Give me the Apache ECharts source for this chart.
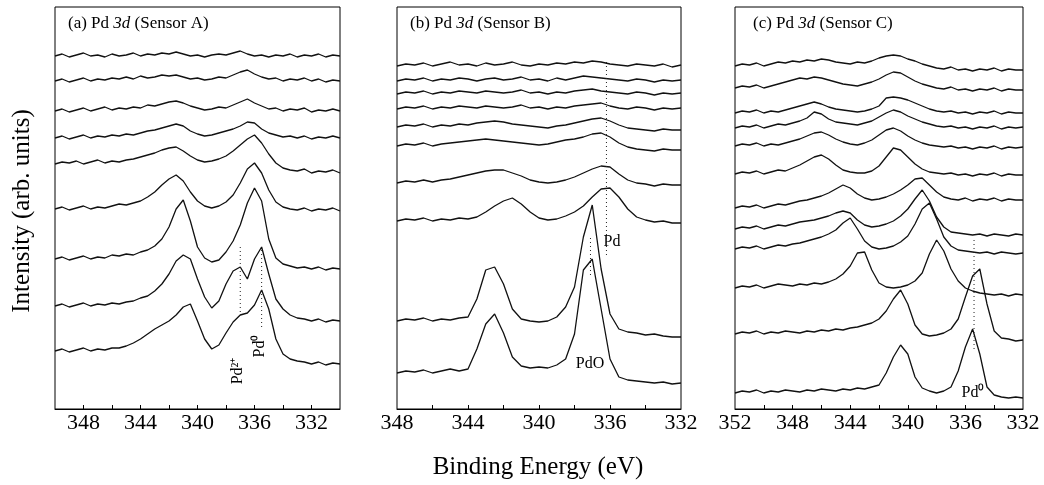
<!DOCTYPE html>
<html>
<head>
<meta charset="utf-8">
<script src="https://cdn.jsdelivr.net/npm/echarts@6/dist/echarts.min.js"></script>
<style>
  html, body { margin: 0; padding: 0; background: #fff; }
  #main { width: 1044px; height: 485px; }
</style>
</head>
<body>
<div id="main"></div>
<script>
// binding energy grids (eV), one per panel
const energyA = [350,349.5,349,348.5,348,347.5,347,346.5,346,345.5,345,344.5,344,343.5,343,342.5,342,341.5,341,340.5,340,339.5,339,338.5,338,337.5,337,336.5,336,335.5,335,334.5,334,333.5,333,332.5,332,331.5,331,330.5,330];
const energyB = [348,347.5,347,346.5,346,345.5,345,344.5,344,343.5,343,342.5,342,341.5,341,340.5,340,339.5,339,338.5,338,337.5,337,336.5,336,335.5,335,334.5,334,333.5,333,332.5,332];
const energyC = [352,351.5,351,350.5,350,349.5,349,348.5,348,347.5,347,346.5,346,345.5,345,344.5,344,343.5,343,342.5,342,341.5,341,340.5,340,339.5,339,338.5,338,337.5,337,336.5,336,335.5,335,334.5,334,333.5,333,332.5,332];

// (a) Sensor A, offset spectra from top to bottom (arb. units)
const a1 = [353,355,352,354,356,353,354,352,355,353,354,356,353,355,354,356,355,357,355,353,354,352,354,355,354,356,358,355,353,354,352,354,353,355,352,354,353,355,352,354,353];
const a2 = [328,330,327,329,331,328,330,329,331,330,332,330,333,331,332,334,333,334,332,330,331,329,330,332,331,334,337,339,335,332,330,331,328,330,329,331,328,330,327,329,328];
const a3 = [298,300,297,299,301,298,300,302,299,301,300,302,301,304,303,305,307,308,306,303,301,299,300,302,301,304,307,310,306,303,300,301,298,300,299,301,297,299,298,300,298];
const a4 = [271,273,270,272,274,271,273,272,274,273,275,274,276,278,279,281,283,285,283,278,275,273,274,276,278,280,283,287,286,280,276,274,272,273,271,273,270,272,271,273,271];
const a5 = [245,247,246,248,245,247,249,246,248,247,249,250,252,254,256,259,261,262,258,253,249,247,248,250,253,258,264,270,274,266,255,246,241,239,238,240,236,238,237,239,236];
const a6 = [200,202,199,201,203,200,202,201,203,205,204,206,208,212,217,224,230,234,228,217,208,203,201,203,207,214,226,240,246,236,219,207,202,200,199,201,198,200,199,201,198];
const a7 = [150,152,149,151,153,150,152,151,154,153,155,154,157,159,163,170,182,200,209,188,162,151,147,149,157,168,184,206,221,208,170,151,145,143,141,142,140,142,139,141,140];
const a8 = [103,105,102,104,106,103,105,104,106,105,107,108,111,113,118,125,135,148,154,150,130,112,101,108,125,138,142,130,150,162,135,110,100,94,91,90,88,90,87,89,88];
const a9 = [58,60,57,59,61,58,60,59,61,61,63,66,70,75,80,84,88,94,102,105,88,70,60,64,76,87,94,96,104,119,100,70,55,50,48,47,45,47,44,46,45];

// (b) Sensor B
const b1 = [343,345,344,346,343,345,347,344,345,343,346,344,345,347,344,343,345,344,346,345,347,346,348,347,345,344,343,345,344,343,345,342,344];
const b2 = [328,330,329,331,328,330,329,331,330,328,330,331,329,330,332,329,330,328,331,329,331,333,332,331,330,329,328,330,329,327,329,328,329];
const b3 = [315,317,316,318,315,317,316,318,317,316,318,317,316,317,319,316,317,315,317,316,318,319,320,318,317,316,315,317,316,314,316,315,316];
const b4 = [300,302,301,303,300,302,301,303,302,301,303,302,301,302,304,301,302,300,302,301,303,304,305,306,303,301,300,302,301,299,301,300,301];
const b5 = [282,284,283,285,282,284,283,285,284,286,287,288,287,285,284,283,282,281,283,284,286,288,290,291,288,284,281,280,279,278,280,279,279];
const b6 = [263,265,264,266,263,265,266,267,268,269,270,269,268,267,266,265,264,265,267,269,270,272,275,276,272,266,262,260,259,258,260,259,259];
const b7 = [226,228,227,229,227,229,230,232,234,236,238,239,239,236,233,229,227,226,227,229,232,236,240,243,242,235,229,226,225,223,225,224,224];
const b8 = [188,190,189,191,188,190,189,191,190,192,197,203,208,211,205,197,191,189,190,193,197,203,212,220,221,212,200,192,189,187,188,186,186];
const b9 = [88,90,89,91,88,90,89,91,92,110,139,142,125,100,90,88,87,88,92,102,122,172,204,140,95,80,77,76,74,75,73,72,72];
const b10 = [36,38,37,39,36,38,40,38,40,60,85,95,76,52,43,41,42,41,44,50,75,139,150,100,50,32,29,28,27,26,27,25,26];

// (c) Sensor C
const c1 = [343,345,344,346,343,345,347,346,348,347,349,348,350,349,347,346,345,347,346,348,351,353,354,353,350,348,345,343,341,340,342,339,340,338,340,339,341,338,340,339,339];
const c2 = [321,323,322,324,321,323,325,327,329,331,330,332,331,329,327,325,324,323,325,327,330,334,337,336,332,328,325,323,321,320,322,319,320,318,320,319,321,318,320,319,319];
const c3 = [296,298,297,299,296,298,297,299,301,303,305,307,305,302,300,299,298,297,298,300,303,311,312,311,309,306,303,300,298,297,298,296,297,295,297,296,298,295,297,296,296];
const c4 = [281,283,282,284,281,283,285,284,286,288,291,297,295,290,287,286,285,284,286,288,292,296,299,297,293,290,287,285,283,282,283,281,282,280,282,281,283,280,282,281,282];
const c5 = [263,265,264,266,263,265,264,266,268,270,273,276,277,274,270,267,265,264,266,269,274,279,281,278,273,269,266,264,263,262,263,261,262,260,262,261,263,260,262,261,262];
const c6 = [235,237,236,238,235,237,239,238,241,244,248,252,254,250,244,239,237,236,236,238,243,252,261,259,252,245,240,237,236,235,236,234,235,233,235,234,236,233,235,234,234];
const c7 = [201,203,202,204,201,203,205,204,206,208,209,211,213,216,220,224,221,215,211,209,210,212,215,219,224,230,231,224,217,212,210,209,211,208,210,209,211,208,210,209,209];
const c8 = [180,182,181,183,180,182,184,183,185,187,188,189,191,193,196,198,196,189,184,182,183,185,188,193,200,210,219,208,192,182,177,176,175,174,175,173,175,174,173,175,174];
const c9 = [160,162,161,163,160,162,164,163,165,166,168,170,172,175,179,186,191,180,168,162,160,161,163,167,173,185,200,206,190,172,163,159,158,157,156,157,155,157,156,155,156];
const c10 = [121,123,122,124,121,123,125,124,123,125,124,126,125,127,130,135,143,156,157,139,126,122,121,122,124,128,136,155,169,158,140,128,121,118,116,115,114,115,113,115,114];
const c11 = [75,77,76,78,75,77,76,78,77,76,78,77,79,78,80,79,81,82,84,86,90,98,110,119,105,84,75,73,74,76,80,90,112,133,140,105,78,71,70,68,69];
const c12 = [16,18,17,19,16,18,17,19,18,17,19,18,20,19,18,20,19,21,20,22,24,36,52,64,55,32,21,18,16,18,22,38,62,80,55,22,14,12,11,12,11];

// dotted peak markers [energy, intensity]
const markA_Pd2 = [[337, 162], [337, 96]];
const markA_Pd0 = [[335.5, 159], [335.5, 80]];
const markB_Pd = [[336.2, 347], [336.2, 154]];
const markB_PdO = [[337.1, 171], [337.1, 132]];
const markC_Pd0 = [[335.4, 169], [335.4, 59]];

// tick labels
const ticksA = [332, 336, 340, 344, 348];
const ticksB = [332, 336, 340, 344, 348];
const ticksC = [332, 336, 340, 344, 348, 352];
const minorA = [332, 334, 336, 338, 340, 342, 344, 346, 348];
const minorB = [334, 336, 338, 340, 342, 344, 346];
const minorC = [334, 336, 338, 340, 342, 344, 346, 348, 350];

const SERIF = 'Liberation Serif';

const chart = echarts.init(document.getElementById('main'));

function makeX(idx, min, max, labels, ticks) {
  return {
    gridIndex: idx,
    type: 'value',
    min: min,
    max: max,
    inverse: true,
    axisLine: { show: true, lineStyle: { color: '#000', width: 1 } },
    axisTick: { show: true, inside: true, length: 4, customValues: ticks, lineStyle: { color: '#000' } },
    axisLabel: { customValues: labels, color: '#000', fontFamily: SERIF, fontSize: 22, margin: 3 },
    splitLine: { show: false }
  };
}

function makeY(idx) {
  return { gridIndex: idx, type: 'value', min: 0, max: 402, show: false };
}

function spectrum(idx, xs, ys) {
  return {
    type: 'line',
    xAxisIndex: idx,
    yAxisIndex: idx,
    data: xs.map((x, i) => [x, ys[i]]),
    symbol: 'none',
    smooth: false,
    lineStyle: { color: '#111', width: 1.3 },
    silent: true,
    animation: false
  };
}

function dotted(idx, pts) {
  return {
    type: 'line',
    xAxisIndex: idx,
    yAxisIndex: idx,
    data: pts,
    symbol: 'none',
    lineStyle: { color: '#222', width: 1, type: [1, 3] },
    silent: true,
    animation: false
  };
}

const series = [];
[a1, a2, a3, a4, a5, a6, a7, a8, a9].forEach(s => series.push(spectrum(0, energyA, s)));
[b1, b2, b3, b4, b5, b6, b7, b8, b9, b10].forEach(s => series.push(spectrum(1, energyB, s)));
[c1, c2, c3, c4, c5, c6, c7, c8, c9, c10, c11, c12].forEach(s => series.push(spectrum(2, energyC, s)));
series.push(dotted(0, markA_Pd2), dotted(0, markA_Pd0));
series.push(dotted(1, markB_Pd), dotted(1, markB_PdO));
series.push(dotted(2, markC_Pd0));

function panelTitle(x, letter, sensor) {
  return {
    type: 'text',
    left: x,
    top: 15,
    style: {
      text: '(' + letter + ') Pd {i|3d} (Sensor ' + sensor + ')',
      fontFamily: SERIF,
      fontSize: 17,
      fill: '#000',
      rich: { i: { fontStyle: 'italic', fontFamily: SERIF, fontSize: 17 } }
    }
  };
}

function note(x, y, text, rot) {
  return {
    type: 'text',
    x: x,
    y: y,
    rotation: rot || 0,
    style: {
      text: text,
      fontFamily: SERIF,
      fontSize: 16,
      fill: '#000',
      align: 'center',
      verticalAlign: 'middle'
    }
  };
}

const option = {
  backgroundColor: '#fff',
  animation: false,
  grid: [
    { left: 55, right: 704, top: 7, bottom: 76, show: true, borderColor: '#000', borderWidth: 1 },
    { left: 397, right: 363, top: 7, bottom: 76, show: true, borderColor: '#000', borderWidth: 1 },
    { left: 735, right: 21, top: 7, bottom: 76, show: true, borderColor: '#000', borderWidth: 1 }
  ],
  xAxis: [
    makeX(0, 330, 350, ticksA, minorA),
    makeX(1, 332, 348, ticksB, minorB),
    makeX(2, 332, 352, ticksC, minorC)
  ],
  yAxis: [makeY(0), makeY(1), makeY(2)],
  series: series,
  graphic: [
    panelTitle(68, 'a', 'A'),
    panelTitle(410, 'b', 'B'),
    panelTitle(753, 'c', 'C'),
    note(238, 371, 'Pd²⁺', Math.PI / 2),
    note(260, 346, 'Pd⁰', Math.PI / 2),
    note(612, 242, 'Pd', 0),
    note(590, 364, 'PdO', 0),
    note(973, 393, 'Pd⁰', 0),
    {
      type: 'text', x: 22, y: 211, rotation: Math.PI / 2,
      style: { text: 'Intensity (arb. units)', fontFamily: SERIF, fontSize: 25, fill: '#000', align: 'center', verticalAlign: 'middle' }
    },
    {
      type: 'text', x: 538, y: 467,
      style: { text: 'Binding Energy (eV)', fontFamily: SERIF, fontSize: 25, fill: '#000', align: 'center', verticalAlign: 'middle' }
    }
  ]
};

chart.setOption(option);
</script>
</body>
</html>
